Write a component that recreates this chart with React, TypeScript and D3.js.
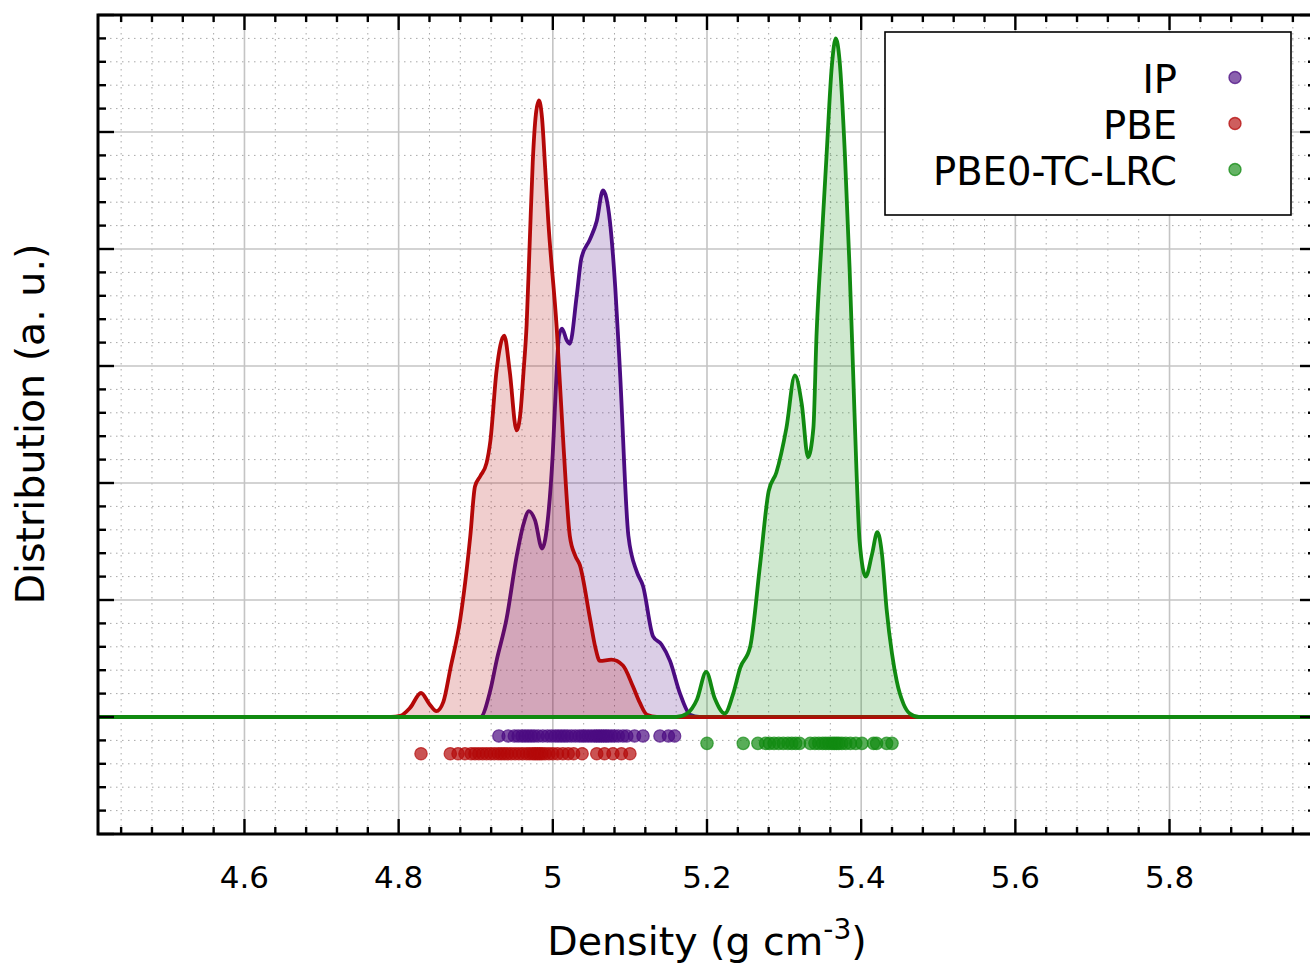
import React from 'react';
import * as d3 from 'd3';

// ---------- data ----------
const SERIES_NAMES = ['IP', 'PBE', 'PBE0-TC-LRC'];
const SERIES_COLORS = ['#4b0c82', '#b40808', '#118a11'];

// KDE curves: [density, distribution]
const IP_CURVE: [number, number][] = [
  [4.906, 0], [4.919, 0.23], [4.927, 0.48], [4.940, 0.84], [4.953, 1.37], [4.962, 1.65],
  [4.969, 1.76], [4.977, 1.68], [4.986, 1.44], [4.994, 1.72], [5.000, 2.26], [5.005, 2.96],
  [5.008, 3.26], [5.012, 3.32], [5.018, 3.22], [5.022, 3.19], [5.031, 3.6], [5.037, 3.92],
  [5.048, 4.08], [5.057, 4.24], [5.065, 4.5], [5.074, 4.24], [5.081, 3.67], [5.087, 2.97],
  [5.098, 1.55], [5.109, 1.24], [5.117, 1.12], [5.130, 0.69], [5.141, 0.62], [5.152, 0.48],
  [5.165, 0.2], [5.178, 0.02], [5.19, 0],
];
const PBE_CURVE: [number, number][] = [
  [4.790, 0], [4.802, 0.01], [4.815, 0.08], [4.829, 0.205], [4.840, 0.11], [4.849, 0.05],
  [4.858, 0.13], [4.867, 0.41], [4.880, 0.84], [4.893, 1.55], [4.899, 1.97], [4.906, 2.06],
  [4.914, 2.17], [4.919, 2.36], [4.927, 2.96], [4.937, 3.26], [4.944, 2.96], [4.953, 2.45],
  [4.958, 2.6], [4.962, 2.95], [4.966, 3.35], [4.970, 4.05], [4.974, 4.75], [4.978, 5.15],
  [4.982, 5.27], [4.986, 5.12], [4.990, 4.7], [4.994, 4.25], [5.005, 3.33], [5.014, 2.3],
  [5.022, 1.55], [5.029, 1.38], [5.035, 1.3], [5.048, 0.85], [5.055, 0.6], [5.061, 0.48],
  [5.076, 0.49], [5.091, 0.44], [5.104, 0.26], [5.113, 0.12], [5.122, 0.02], [5.135, 0],
];
const PBE0_CURVE: [number, number][] = [
  [5.160, 0], [5.174, 0.03], [5.187, 0.15], [5.199, 0.385], [5.210, 0.16], [5.223, 0.03],
  [5.234, 0.2], [5.243, 0.42], [5.256, 0.6], [5.269, 1.31], [5.280, 1.93], [5.290, 2.09],
  [5.303, 2.47], [5.314, 2.92], [5.323, 2.67], [5.331, 2.22], [5.338, 2.47], [5.342, 3.25],
  [5.349, 4.1], [5.355, 4.79], [5.362, 5.57], [5.367, 5.8], [5.372, 5.61], [5.379, 4.79],
  [5.385, 3.83], [5.390, 2.86], [5.394, 2.09], [5.398, 1.5], [5.406, 1.2], [5.414, 1.39],
  [5.421, 1.58], [5.427, 1.39], [5.433, 0.92], [5.440, 0.54], [5.446, 0.31], [5.455, 0.11],
  [5.463, 0.03], [5.475, 0],
];

// individual samples (rug)
const IP_RUG = [4.930, 4.942, 4.950, 4.955, 4.960, 4.964, 4.968, 4.972, 4.976, 4.981, 4.987, 4.993,
  4.998, 5.003, 5.007, 5.011, 5.015, 5.019, 5.024, 5.029, 5.034, 5.038, 5.042, 5.046, 5.050, 5.054,
  5.057, 5.060, 5.063, 5.066, 5.069, 5.072, 5.076, 5.080, 5.085, 5.091, 5.096, 5.106, 5.117, 5.139,
  5.150, 5.158];
const PBE_RUG = [4.829, 4.867, 4.877, 4.886, 4.894, 4.899, 4.904, 4.909, 4.914, 4.919, 4.924, 4.929,
  4.933, 4.937, 4.941, 4.946, 4.951, 4.956, 4.961, 4.966, 4.970, 4.974, 4.977, 4.980, 4.983, 4.986,
  4.990, 4.995, 5.000, 5.006, 5.013, 5.020, 5.027, 5.038, 5.057, 5.067, 5.078, 5.089, 5.100];
const PBE0_RUG = [5.200, 5.247, 5.266, 5.276, 5.281, 5.287, 5.293, 5.299, 5.305, 5.310, 5.315, 5.320,
  5.334, 5.340, 5.345, 5.350, 5.354, 5.358, 5.362, 5.365, 5.368, 5.371, 5.375, 5.380, 5.386, 5.393,
  5.401, 5.416, 5.420, 5.433, 5.440];
const RUG_LEVELS = [-0.162, -0.314, -0.225];

const X_MAJOR_TICKS = [4.6, 4.8, 5.0, 5.2, 5.4, 5.6, 5.8];
const X_DOMAIN: [number, number] = [4.41, 5.99];
const Y_DOMAIN: [number, number] = [-1, 6];

const CURVES = [IP_CURVE, PBE_CURVE, PBE0_CURVE];
const RUGS = [IP_RUG, PBE_RUG, PBE0_RUG];

const FONT = 'DejaVu Sans, sans-serif';

export default function App() {
  const W = 1310, H = 965;
  const left = 98, right = 1316, top = 15, bottom = 834;
  const x = d3.scaleLinear().domain(X_DOMAIN).range([left, right]);
  const y = d3.scaleLinear().domain(Y_DOMAIN).range([bottom, top]);

  const xMinor = d3.range(Math.ceil(X_DOMAIN[0] / 0.04), Math.floor(X_DOMAIN[1] / 0.04) + 1).map(i => +(i * 0.04).toFixed(2));
  const xMinorOnly = xMinor.filter(v => !X_MAJOR_TICKS.some(m => Math.abs(m - v) < 1e-6));
  const yMajor = d3.range(Y_DOMAIN[0], Y_DOMAIN[1] + 1);
  const yMinor = d3.range(Y_DOMAIN[0] * 5, Y_DOMAIN[1] * 5 + 1).map(i => i / 5).filter(v => Math.abs(v - Math.round(v)) > 1e-6);

  const extend = (c: [number, number][]): [number, number][] => [[4.0, 0], ...c, [6.4, 0]];
  const line = d3.line<[number, number]>().x(d => x(d[0])).y(d => y(d[1])).curve(d3.curveMonotoneX);
  const area = d3.area<[number, number]>().x(d => x(d[0])).y0(y(0)).y1(d => y(d[1])).curve(d3.curveMonotoneX);

  return (
    <svg width={W} height={H} style={{ position: 'absolute', left: 0, top: 0, display: 'block', background: '#fff' }}>
      <defs>
        <clipPath id="plotclip">
          <rect x={left} y={top} width={right - left} height={bottom - top} />
        </clipPath>
      </defs>
      <rect x={0} y={0} width={W} height={H} fill="#fff" />
      {/* minor grid */}
      <g stroke="#a8a8a8" strokeWidth={1} strokeDasharray="1.5 4.5">
        {xMinorOnly.map(v => <line key={'xm' + v} x1={x(v)} x2={x(v)} y1={top} y2={bottom} />)}
        {yMinor.map(v => <line key={'ym' + v} x1={left} x2={right} y1={y(v)} y2={y(v)} />)}
      </g>
      {/* major grid */}
      <g stroke="#c4c4c4" strokeWidth={1.6}>
        {X_MAJOR_TICKS.map(v => <line key={'xM' + v} x1={x(v)} x2={x(v)} y1={top} y2={bottom} />)}
        {yMajor.map(v => <line key={'yM' + v} x1={left} x2={right} y1={y(v)} y2={y(v)} />)}
      </g>
      {/* curves */}
      <g clipPath="url(#plotclip)">
        {CURVES.map((c, i) => (
          <g key={'c' + i}>
            <path d={area(extend(c)) || ''} fill={SERIES_COLORS[i]} fillOpacity={0.2} stroke="none" />
            <path d={line(extend(c)) || ''} fill="none" stroke={SERIES_COLORS[i]} strokeWidth={3.8} strokeLinejoin="round" />
          </g>
        ))}
        {RUGS.map((r, i) => (
          <g key={'r' + i}>
            {r.map((v, j) => (
              <circle key={j} cx={x(v)} cy={y(RUG_LEVELS[i])} r={6.2}
                fill={SERIES_COLORS[i]} fillOpacity={0.7} stroke={SERIES_COLORS[i]} strokeOpacity={0.7} strokeWidth={1.2} />
            ))}
          </g>
        ))}
      </g>
      {/* ticks */}
      <g stroke="#000" strokeWidth={2.4}>
        {xMinor.map(v => {
          const major = X_MAJOR_TICKS.some(m => Math.abs(m - v) < 1e-6);
          const len = major ? 15 : 7;
          return (
            <g key={'xt' + v}>
              <line x1={x(v)} x2={x(v)} y1={bottom} y2={bottom - len} />
              <line x1={x(v)} x2={x(v)} y1={top} y2={top + len} />
            </g>
          );
        })}
        {[...yMajor, ...yMinor].map(v => {
          const major = Math.abs(v - Math.round(v)) < 1e-6;
          const len = major ? 16 : 8;
          return (
            <g key={'yt' + v}>
              <line x1={left} x2={left + len} y1={y(v)} y2={y(v)} />
              <line x1={right} x2={right - len} y1={y(v)} y2={y(v)} />
            </g>
          );
        })}
      </g>
      {/* frame */}
      <rect x={left} y={top} width={right - left} height={bottom - top} fill="none" stroke="#000" strokeWidth={3} />
      {/* tick labels */}
      <g fontFamily={FONT} fontSize={31} fill="#000" textAnchor="middle">
        {X_MAJOR_TICKS.map(v => (
          <text key={'xl' + v} x={x(v)} y={888}>{String(+v.toFixed(1))}</text>
        ))}
      </g>
      {/* axis titles */}
      <text x={x(5.2)} y={955} fontFamily={FONT} fontSize={39.5} textAnchor="middle" fill="#000">
        Density (g cm<tspan dy={-16} fontSize={28}>-3</tspan><tspan dy={16}>)</tspan>
      </text>
      <text transform="translate(44,424) rotate(-90)" fontFamily={FONT} fontSize={39.5} textAnchor="middle" fill="#000">
        Distribution (a. u.)
      </text>
      {/* legend */}
      <rect x={885} y={32} width={406} height={183} fill="#fff" stroke="#000" strokeWidth={1.6} />
      {SERIES_NAMES.map((n, i) => (
        <g key={'lg' + i}>
          <text x={1177} y={93 + i * 46} fontFamily={FONT} fontSize={38.5} textAnchor="end" fill="#000">{n}</text>
          <circle cx={1235} cy={77.5 + i * 46} r={6} fill={SERIES_COLORS[i]} fillOpacity={0.65}
            stroke={SERIES_COLORS[i]} strokeOpacity={0.75} strokeWidth={1.4} />
        </g>
      ))}
    </svg>
  );
}
